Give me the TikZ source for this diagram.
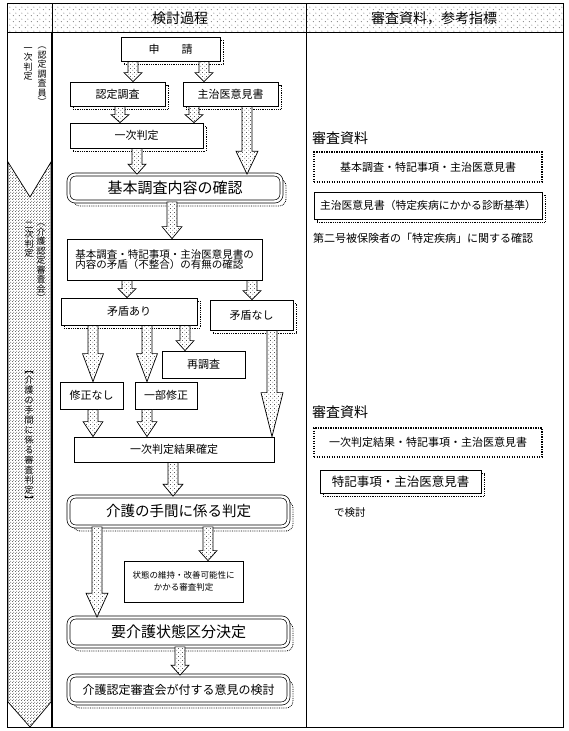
\documentclass[tikz,border=0pt]{standalone}
\usepackage{fontspec}
\setmainfont{Noto Sans CJK JP}
\usetikzlibrary{patterns.meta,calc}

\newcommand\fs[1]{\fontsize{#1}{#1}\selectfont}

\tikzdeclarepattern{
  name=arrowdots, type=uncolored,
  bottom left={(0pt,0pt)}, top right={(4pt,4pt)}, tile size={(4pt,4pt)},
  code={\fill (1pt,1pt) circle (0.45pt); \fill (3pt,3pt) circle (0.45pt);}
}
\tikzdeclarepattern{
  name=hdrdots, type=uncolored,
  bottom left={(0pt,0pt)}, top right={(6pt,6pt)}, tile size={(6pt,6pt)},
  code={\fill (1.5pt,1.5pt) circle (0.45pt); \fill (4.5pt,4.5pt) circle (0.45pt);}
}
\tikzdeclarepattern{
  name=chevdots, type=uncolored,
  bottom left={(0pt,0pt)}, top right={(3pt,3pt)}, tile size={(3pt,3pt)},
  code={\fill (0.75pt,0.75pt) circle (0.5pt); \fill (2.25pt,2.25pt) circle (0.5pt);}
}

% block arrow: x, from, to, head length, head half width
\newcommand\flowarrow[5]{%
  \filldraw[flowarrow] let \p1=(#1,0 |- #2), \p2=(#1,0 |- #3) in
    (\x1-5pt,\y1) -- (\x1+5pt,\y1) -- (\x1+5pt,\y2+#4pt) -- (\x1+#5pt,\y2+#4pt)
    -- (\x1,\y2) -- (\x1-#5pt,\y2+#4pt) -- (\x1-5pt,\y2+#4pt) -- cycle;
}

\begin{document}
\begin{tikzpicture}[x=1pt,y=-1pt,
  box/.style={draw, fill=white, line width=0.8pt, inner sep=0pt, align=center, font=\fs{11}},
  shadowed/.style={preaction={draw, densely dotted, line width=0.8pt,
    transform canvas={shift={(3pt,-3pt)}}}},
  dblbox/.style={draw, double, double distance=2.4pt, line width=0.7pt,
    rounded corners=7pt, fill=white, inner sep=0pt, align=center,
    preaction={draw, densely dotted, line width=0.8pt,
      transform canvas={shift={(4.5pt,-4.5pt)}}}},
  dotbox/.style={draw, line width=1.3pt, dash pattern=on 1.3pt off 1.2pt,
    inner sep=0pt, font=\fs{11}},
  vtext/.style={inner sep=0pt, anchor=north, align=center,
    font=\fontsize{9}{9.5}\selectfont},
  flowarrow/.style={draw, line width=0.7pt, pattern=arrowdots,
    preaction={fill=white}}]

  \useasboundingbox (0,0) rectangle (569,731);

  % Table
  \fill[pattern=hdrdots] (7,3) rectangle (563,32);
  \draw[line width=0.8pt] (7,3) rectangle (563,727);
  \draw[line width=0.8pt] (7,32) -- (563,32);
  \draw[line width=0.8pt] (52,3) -- (52,32);
  \draw[line width=1.5pt] (52,32) -- (52,727);
  \draw[line width=0.8pt] (306,3) -- (306,727);

  \node[font=\fs{14}] (hdrA) at (180,18) {検討過程};
  \node[font=\fs{14}] (hdrB) at (434,18) {審査資料，参考指標};

  % Stage column
  \filldraw[pattern=chevdots, line width=0.7pt]
    (8,162) -- (30,197) -- (51,162) -- (51,702) -- (30,727) -- (8,702) -- cycle;

  \node[vtext] (stageA) at (42,47) {︵\\認\\定\\調\\査\\員\\︶};
  \node[vtext] (stageB) at (28,47) {一\\次\\判\\定};
  \node[vtext] (stageC) at (41,224) {︵\\介\\護\\認\\定\\審\\査\\会\\︶};
  \node[vtext] (stageD) at (29,222) {二\\次\\判\\定};
  \node[vtext, font=\fontsize{9}{10}\selectfont] (stageE) at (29,371)
    {︻\\介\\護\\の\\手\\間\\に\\係\\る\\審\\査\\判\\定\\︼};

  % Process boxes
  \node[box, shadowed, minimum width=99pt, minimum height=24pt] (shinsei) at (170.5,49) {申　　請};
  \node[box, shadowed, minimum width=95pt, minimum height=24pt] (nintei) at (117.5,94) {認定調査};
  \node[box, shadowed, minimum width=95pt, minimum height=24pt] (ikensho) at (230.5,94) {主治医意見書};
  \node[box, shadowed, minimum width=133pt, minimum height=25pt] (ichiji) at (136.5,135.5) {一次判定};
  \node[dblbox, minimum width=213pt, minimum height=27pt, font=\fs{15}] (kakunin) at (175,188) {基本調査内容の確認};
  \node[box, minimum width=195pt, minimum height=41pt, align=left, font=\fs{10.5}] (mujun) at (164.5,259.5)
    {基本調査・特記事項・主治医意見書の\\内容の矛盾（不整合）の有無の確認};
  \node[box, shadowed, minimum width=136pt, minimum height=27pt] (ari) at (129,311.5) {矛盾あり};
  \node[box, shadowed, minimum width=83pt, minimum height=30pt] (nashi) at (251.5,315) {矛盾なし};
  \node[box, minimum width=83pt, minimum height=27pt] (saichosa) at (203.5,364.5) {再調査};
  \node[box, minimum width=63pt, minimum height=27pt] (shuseinashi) at (91.5,395.5) {修正なし};
  \node[box, minimum width=62pt, minimum height=27pt] (ichibu) at (166,395.5) {一部修正};
  \node[box, minimum width=200pt, minimum height=25pt] (kakutei) at (174,449.5) {一次判定結果確定};
  \node[dblbox, minimum width=220pt, minimum height=30pt, font=\fs{14.5}] (tema) at (178.5,511.5) {介護の手間に係る判定};
  \node[box, minimum width=119pt, minimum height=41pt, font=\fontsize{8.5}{12}\selectfont] (jotai) at (183.5,581.5)
    {状態の維持・改善可能性に\\かかる審査判定};
  \node[dblbox, minimum width=220pt, minimum height=29pt, font=\fs{15}] (kubun) at (178.5,632) {要介護状態区分決定};
  \node[dblbox, minimum width=220pt, minimum height=28pt, font=\fs{12}] (iken) at (178.5,689.5) {介護認定審査会が付する意見の検討};

  % Arrows
  \flowarrow{133}{shinsei.south}{nintei.north}{9}{9}
  \flowarrow{204}{shinsei.south}{ikensho.north}{9}{9}
  \flowarrow{120}{nintei.south}{ichiji.north}{8}{9}
  \flowarrow{194}{ikensho.south}{ichiji.north}{8}{9}
  \flowarrow{247}{ikensho.south}{kakunin.north}{23}{11}
  \flowarrow{137}{ichiji.south}{kakunin.north}{10}{9}
  \flowarrow{172}{kakunin.south}{mujun.north}{12}{10}
  \flowarrow{127}{mujun.south}{ari.north}{9}{9}
  \flowarrow{252}{mujun.south}{nashi.north}{9}{9}
  \flowarrow{93}{ari.south}{shuseinashi.north}{28}{10.5}
  \flowarrow{147}{ari.south}{ichibu.north}{28}{10.5}
  \flowarrow{185}{ari.south}{saichosa.north}{10}{9}
  \flowarrow{272}{nashi.south}{kakutei.north}{44}{11}
  \flowarrow{93}{shuseinashi.south}{kakutei.north}{15}{10}
  \flowarrow{147}{ichibu.south}{kakutei.north}{15}{10}
  \flowarrow{173}{kakutei.south}{tema.north}{12}{10}
  \flowarrow{97}{tema.south}{kubun.north}{24}{11}
  \flowarrow{208}{tema.south}{jotai.north}{10}{9}
  \flowarrow{180}{kubun.south}{iken.north}{10}{9}

  % Materials
  \node[font=\fs{14}, anchor=west, inner sep=0pt] (shiryoA) at (312,138) {審査資料};
  \node[dotbox, minimum width=228pt, minimum height=30pt] (matA) at (428,167) {基本調査・特記事項・主治医意見書};
  \node[box, shadowed, minimum width=228pt, minimum height=27pt, font=\fs{10.8}] (matB) at (428,205.5)
    {主治医意見書（特定疾病にかかる診断基準）};
  \node[font=\fs{11}, anchor=west, inner sep=0pt] (noteB) at (313,238) {第二号被保険者の「特定疾病」に関する確認};

  \node[font=\fs{14}, anchor=west, inner sep=0pt] (shiryoC) at (312,412) {審査資料};
  \node[dotbox, minimum width=228pt, minimum height=29pt] (matC) at (428,442.5) {一次判定結果・特記事項・主治医意見書};
  \node[box, shadowed, minimum width=161pt, minimum height=23pt, font=\fs{12.5}] (matD) at (400.5,482) {特記事項・主治医意見書};
  \node[font=\fs{10.5}, anchor=west, inner sep=0pt] (noteD) at (334,513) {で検討};

\end{tikzpicture}
\end{document}
